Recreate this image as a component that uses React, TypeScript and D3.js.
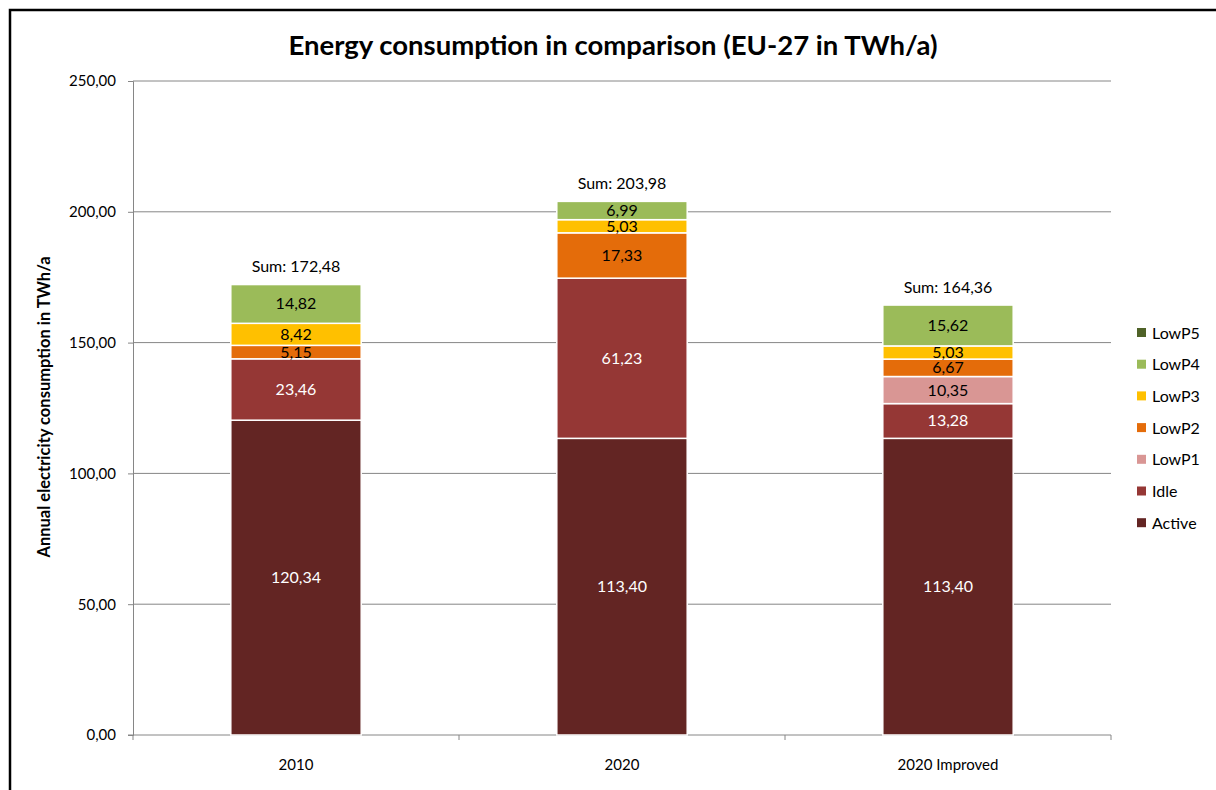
import React, { useRef, useEffect } from "react";
import * as d3 from "d3";

// chart values
const categories = ["2010", "2020", "2020 Improved"];
const seriesNames = ["Active", "Idle", "LowP1", "LowP2", "LowP3", "LowP4", "LowP5"];
const active = [120.34, 113.4, 113.4];
const idle = [23.46, 61.23, 13.28];
const lowP1 = [0, 0, 10.35];
const lowP2 = [5.15, 17.33, 6.67];
const lowP3 = [8.42, 5.03, 5.03];
const lowP4 = [14.82, 6.99, 15.62];
const lowP5 = [0, 0, 0];
const sums = [172.48, 203.98, 164.36];
const yTicks = [0, 50, 100, 150, 200, 250];

const colors = {
	Active: "#632523",
	Idle: "#953735",
	LowP1: "#D99694",
	LowP2: "#E46C0A",
	LowP3: "#FFC000",
	LowP4: "#9BBB59",
	LowP5: "#4F6228",
};
const labelColor = { Active: "#fff", Idle: "#fff" };

const FONT = "Lato, 'Open Sans', sans-serif";
const fmt = (v: number) => d3.format(".2f")(v).replace(".", ",");

const App = () => {
	const ref = useRef<SVGSVGElement>(null);
	const width = 1216;
	const height = 790;
	const plot = { left: 133, right: 1111, top: 81, bottom: 735 };

	useEffect(() => {
		const svg = d3.select(ref.current);
		svg.selectAll("*").remove();

		// build rows for the stack
		const rows = categories.map((c, i) => ({
			category: c,
			Active: active[i],
			Idle: idle[i],
			LowP1: lowP1[i],
			LowP2: lowP2[i],
			LowP3: lowP3[i],
			LowP4: lowP4[i],
			LowP5: lowP5[i],
		}));
		const stacked = d3.stack().keys(seriesNames)(rows as any);

		const x = d3
			.scaleBand()
			.domain(categories)
			.range([plot.left, plot.right])
			.paddingInner(0.6)
			.paddingOuter(0.3);
		const y = d3.scaleLinear().domain([0, 250]).range([plot.bottom, plot.top]);

		// outer frame
		svg
			.append("rect")
			.attr("x", 10)
			.attr("y", 10)
			.attr("width", 1230)
			.attr("height", 820)
			.attr("fill", "#fff")
			.attr("stroke", "#000")
			.attr("stroke-width", 2.5);

		// title
		svg
			.append("text")
			.attr("x", 613)
			.attr("y", 55)
			.attr("text-anchor", "middle")
			.attr("font-family", FONT)
			.attr("font-weight", "bold")
			.attr("font-size", 27.5)
			.text("Energy consumption in comparison (EU-27 in TWh/a)");

		// gridlines
		svg
			.append("g")
			.selectAll("line")
			.data(yTicks.slice(1))
			.enter()
			.append("line")
			.attr("x1", plot.left)
			.attr("x2", plot.right)
			.attr("y1", (d) => y(d))
			.attr("y2", (d) => y(d))
			.attr("stroke", "#868686")
			.attr("stroke-width", 1);

		// y axis
		const yAxis = d3
			.axisLeft(y)
			.tickValues(yTicks)
			.tickSize(5)
			.tickPadding(12)
			.tickFormat((d) => fmt(+d));
		const gy = svg.append("g").attr("transform", `translate(${plot.left},0)`).call(yAxis);
		gy.select(".domain").attr("stroke", "#868686");
		gy.selectAll(".tick line").attr("stroke", "#868686");
		gy.selectAll("text")
			.attr("font-family", FONT)
			.attr("font-size", 15)
			.attr("fill", "#000");

		// x axis
		const gx = svg.append("g").attr("transform", `translate(0,${plot.bottom})`);
		gx.append("line")
			.attr("x1", plot.left - 5)
			.attr("x2", plot.right)
			.attr("stroke", "#868686");
		const step = x.step();
		gx.selectAll(".sep")
			.data(d3.range(categories.length + 1))
			.enter()
			.append("line")
			.attr("x1", (i) => plot.left + i * step)
			.attr("x2", (i) => plot.left + i * step)
			.attr("y1", 0)
			.attr("y2", 5)
			.attr("stroke", "#868686");
		gx.selectAll(".cat")
			.data(categories)
			.enter()
			.append("text")
			.attr("x", (d) => x(d)! + x.bandwidth() / 2)
			.attr("y", 35)
			.attr("text-anchor", "middle")
			.attr("font-family", FONT)
			.attr("font-size", 15)
			.text((d) => d);

		// y axis title
		svg
			.append("text")
			.attr("transform", `translate(50,407) rotate(-90)`)
			.attr("text-anchor", "middle")
			.attr("font-family", FONT)
			.attr("font-weight", "bold")
			.attr("font-size", 16.5)
			.text("Annual electricity consumption in TWh/a");

		// bars
		stacked.forEach((layer) => {
			const key = layer.key;
			const g = svg.append("g");
			const segs = layer
				.map((d, i) => ({ d, i }))
				.filter((s) => s.d[1] - s.d[0] > 0);
			g.selectAll("rect")
				.data(segs)
				.enter()
				.append("rect")
				.attr("x", (s) => x(categories[s.i])!)
				.attr("width", x.bandwidth())
				.attr("y", (s) => y(s.d[1]))
				.attr("height", (s) => y(s.d[0]) - y(s.d[1]))
				.attr("fill", colors[key])
				.attr("stroke", "#fff")
				.attr("stroke-width", 1.5);
			g.selectAll("text")
				.data(segs)
				.enter()
				.append("text")
				.attr("x", (s) => x(categories[s.i])! + x.bandwidth() / 2)
				.attr("y", (s) => (y(s.d[0]) + y(s.d[1])) / 2 + 5.5)
				.attr("text-anchor", "middle")
				.attr("font-family", FONT)
				.attr("font-size", 16)
				.attr("fill", labelColor[key] || "#000")
				.text((s) => fmt(s.d[1] - s.d[0]));
		});

		// sum labels
		svg
			.append("g")
			.selectAll("text")
			.data(categories)
			.enter()
			.append("text")
			.attr("x", (d) => x(d)! + x.bandwidth() / 2)
			.attr("y", (d, i) => y(sums[i]) - 12)
			.attr("text-anchor", "middle")
			.attr("font-family", FONT)
			.attr("font-size", 16)
			.text((d, i) => `Sum: ${fmt(sums[i])}`);

		// legend (top to bottom LowP5 ... Active)
		const legendItems = seriesNames.slice().reverse();
		const lg = svg
			.append("g")
			.selectAll("g")
			.data(legendItems)
			.enter()
			.append("g")
			.attr("transform", (d, i) => `translate(1137,${333 + i * 31.7})`);
		lg.append("rect")
			.attr("x", 0)
			.attr("y", -5)
			.attr("width", 9)
			.attr("height", 9)
			.attr("fill", (d) => colors[d]);
		lg.append("text")
			.attr("x", 15)
			.attr("y", 5.5)
			.attr("font-family", FONT)
			.attr("font-size", 16)
			.text((d) => d);
	}, []);

	return (
		<div>
			<style>{`body{margin:0}`}</style>
			<svg ref={ref} width={width} height={height} style={{ display: "block" }} />
		</div>
	);
};

export default App;
